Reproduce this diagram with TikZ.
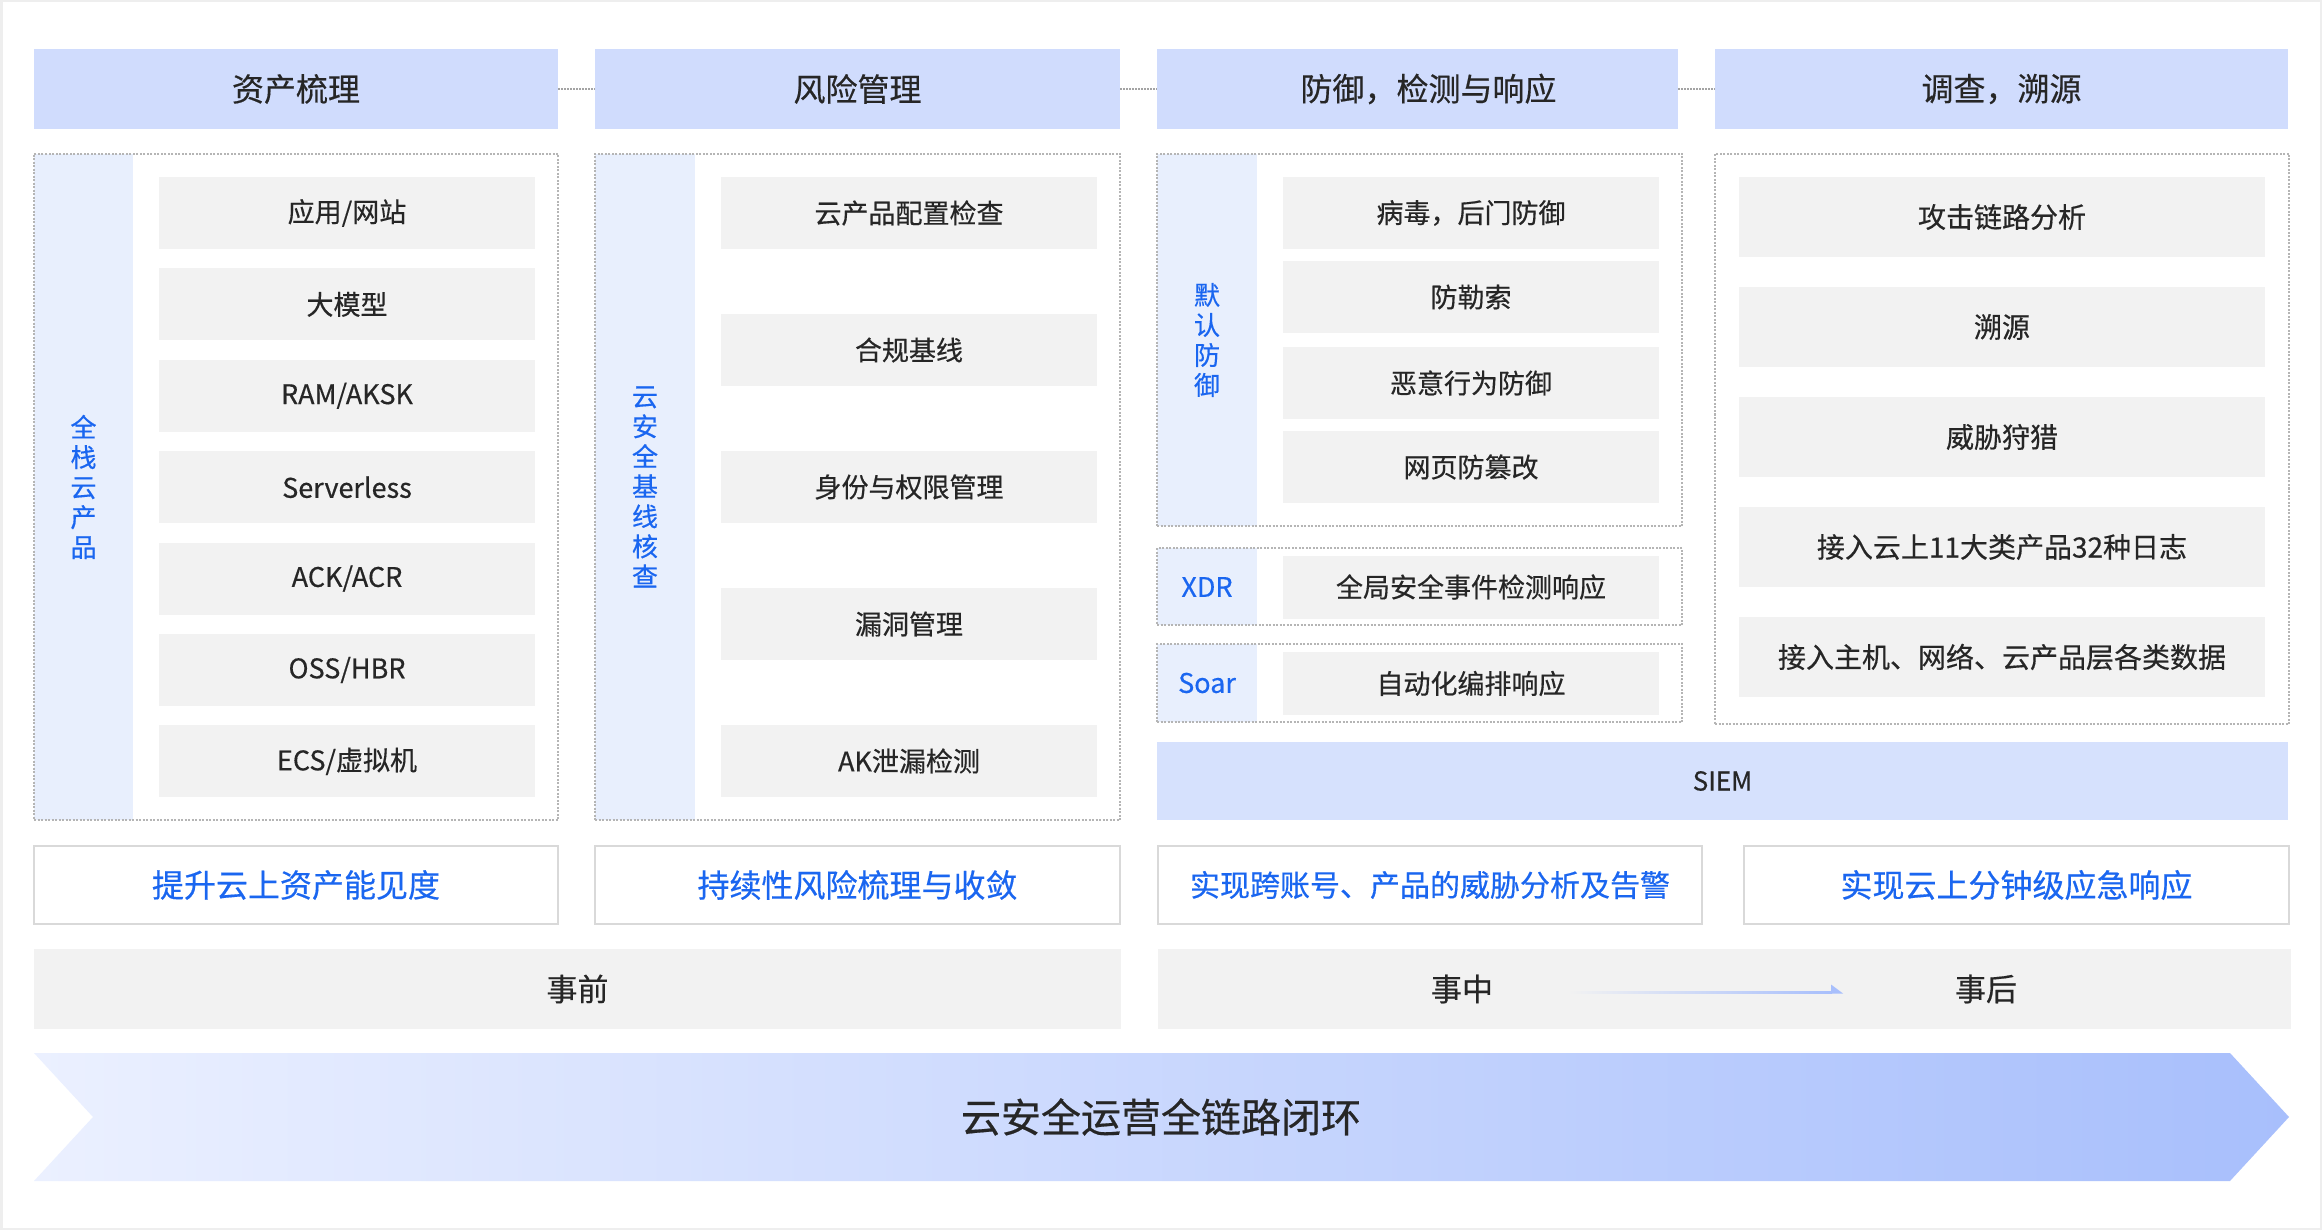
\documentclass[tikz,border=0pt]{standalone}
\usepackage{fontspec}
\setmainfont{Noto Sans CJK SC}[FakeBold=0.45]
\definecolor{hdr}{HTML}{D0DCFD}
\definecolor{stripc}{HTML}{E8EFFD}
\definecolor{itemc}{HTML}{F2F2F2}
\definecolor{txt}{HTML}{262626}
\definecolor{blu}{HTML}{1A66F0}
\definecolor{dotc}{HTML}{B5B5B5}
\definecolor{siemc}{HTML}{D6E1FD}
\definecolor{goalb}{HTML}{D9D9D9}
\definecolor{framec}{HTML}{EEEEEE}
\definecolor{arrL}{HTML}{EBF0FF}
\definecolor{arrR}{HTML}{A8BFFC}
\begin{document}
\begin{tikzpicture}[x=1pt,y=-1pt,
  box/.style={rectangle, anchor=north west, inner sep=0pt, outer sep=0pt},
  header/.style={box, fill=hdr, minimum height=80pt, text=txt, font=\fontsize{32}{36}\selectfont},
  panel/.style={box, draw=dotc, line width=1.5pt, dash pattern=on 2pt off 1.5pt},
  stripbox/.style={box, fill=stripc},
  itm/.style={box, fill=itemc, minimum height=72pt, text=txt, font=\fontsize{27}{30}\selectfont},
  itmw/.style={itm, minimum width=376pt},
  itmr/.style={box, fill=itemc, minimum height=80pt, minimum width=526pt, text=txt, font=\fontsize{28}{30}\selectfont},
  vtext/.style={text=blu, align=center, inner sep=0pt, font=\fontsize{26}{30}\selectfont},
  goal/.style={box, fill=white, draw=goalb, line width=2.5pt, minimum height=78pt, text=blu, font=\fontsize{32}{36}\selectfont},
  phase/.style={box, fill=itemc, minimum height=80pt},
  phasetext/.style={text=txt, inner sep=0pt, font=\fontsize{31}{34}\selectfont},
  hdrlink/.style={draw=dotc!90!black, line width=1.5pt, dash pattern=on 1.5pt off 1.5pt}
]
\useasboundingbox (0,0) rectangle (2322,1230);
\fill[white] (0,0) rectangle (2322,1230);
\draw[framec, line width=5pt] (0,0) rectangle (2322,1230);

% headers
\node[header, minimum width=524pt] (h1) at (34,49) {资产梳理};
\node[header, minimum width=525pt] (h2) at (595,49) {风险管理};
\node[header, minimum width=521pt] (h3) at (1157,49) {\hspace*{22pt}防御，检测与响应};
\node[header, minimum width=573pt] (h4) at (1715,49) {调查，溯源};
\draw[hdrlink] (h1.east) -- (h2.west);
\draw[hdrlink] (h2.east) -- (h3.west);
\draw[hdrlink] (h3.east) -- (h4.west);

% column 1
\node[stripbox, minimum width=99pt, minimum height=666pt] (s1) at (34,154) {};
\node[vtext] (v1) at (83.5,487) {全\\栈\\云\\产\\品};
\node[itmw] (a1) at (159,177) {应用/网站};
\node[itmw] (a2) at (159,268.4) {大模型};
\node[itmw] (a3) at (159,359.8) {RAM/AKSK};
\node[itmw] (a4) at (159,451.2) {Serverless};
\node[itmw] (a5) at (159,542.6) {ACK/ACR};
\node[itmw] (a6) at (159,634) {OSS/HBR};
\node[itmw] (a7) at (159,725.4) {ECS/虚拟机};
\node[panel, minimum width=524pt, minimum height=666pt] (p1) at (34,154) {};

% column 2
\node[stripbox, minimum width=100pt, minimum height=666pt] (s2) at (595,154) {};
\node[vtext] (v2) at (645,487) {云\\安\\全\\基\\线\\核\\查};
\node[itmw] (b1) at (721,177) {云产品配置检查};
\node[itmw] (b2) at (721,314) {合规基线};
\node[itmw] (b3) at (721,451) {身份与权限管理};
\node[itmw] (b4) at (721,588) {漏洞管理};
\node[itmw] (b5) at (721,725) {AK泄漏检测};
\node[panel, minimum width=525pt, minimum height=666pt] (p2) at (595,154) {};

% column 3
\node[stripbox, minimum width=100pt, minimum height=372pt] (s3) at (1157,154) {};
\node[vtext] (v3) at (1207,340) {默\\认\\防\\御};
\node[itmw] (c1) at (1283,177) {病毒，后门防御};
\node[itmw] (c2) at (1283,261) {防勒索};
\node[itmw] (c3) at (1283,347) {恶意行为防御};
\node[itmw] (c4) at (1283,431) {网页防篡改};
\node[panel, minimum width=525pt, minimum height=372pt] (p3) at (1157,154) {};

\node[stripbox, minimum width=100pt, minimum height=77pt] (s4) at (1157,548) {};
\node[vtext, font=\fontsize{27}{30}\selectfont] (xdr) at (1207,587) {XDR};
\node[itmw, minimum height=63pt] (c5) at (1283,555.5) {全局安全事件检测响应};
\node[panel, minimum width=525pt, minimum height=77pt] (p4) at (1157,548) {};

\node[stripbox, minimum width=100pt, minimum height=78pt] (s5) at (1157,644) {};
\node[vtext, font=\fontsize{27}{30}\selectfont] (soar) at (1207,683) {Soar};
\node[itmw, minimum height=63pt] (c6) at (1283,652) {自动化编排响应};
\node[panel, minimum width=525pt, minimum height=78pt] (p5) at (1157,644) {};

\node[box, fill=siemc, minimum width=1131pt, minimum height=78pt, text=txt, font=\fontsize{26}{30}\selectfont] (siem) at (1157,742) {SIEM};

% column 4
\node[itmr] (d1) at (1739,177) {攻击链路分析};
\node[itmr] (d2) at (1739,287) {溯源};
\node[itmr] (d3) at (1739,397) {威胁狩猎};
\node[itmr] (d4) at (1739,507) {接入云上11大类产品32种日志};
\node[itmr] (d5) at (1739,617) {接入主机、网络、云产品层各类数据};
\node[panel, minimum width=574pt, minimum height=570pt] (p6) at (1715,154) {};

% goals
\node[goal, minimum width=524pt] (g1) at (34,846) {提升云上资产能见度};
\node[goal, minimum width=525pt] (g2) at (595,846) {持续性风险梳理与收敛};
\node[goal, minimum width=544pt, font=\fontsize{30}{36}\selectfont] (g3) at (1158,846) {实现跨账号、产品的威胁分析及告警};
\node[goal, minimum width=545pt] (g4) at (1744,846) {实现云上分钟级应急响应};

% phases
\node[phase, minimum width=1087pt] (t1) at (34,949) {};
\node[phasetext] (pre) at (t1.center) {事前};
\node[phase, minimum width=1133pt] (t2) at (1158,949) {};
\node[phasetext] (mid) at (1462,989) {事中};
\node[phasetext] (post) at (1986,989) {事后};
\coordinate (arrS) at (1568,991.5);
\coordinate (arrE) at (1843,993.5);
\shade[left color=itemc, right color=arrR] (arrS) rectangle (1832,993.5);
\fill[arrR] (1831,984.5) -- (arrE) -- (1831,993.5) -- cycle;

% big arrow
\shade[left color=arrL, right color=arrR] (34,1053) -- (2230,1053) -- (2289,1117) -- (2230,1181) -- (34,1181) -- (93,1117) -- cycle;
\node[text=txt, inner sep=0pt, font=\fontsize{40}{44}\selectfont] (loop) at (1161,1117) {云安全运营全链路闭环};
\end{tikzpicture}
\end{document}
